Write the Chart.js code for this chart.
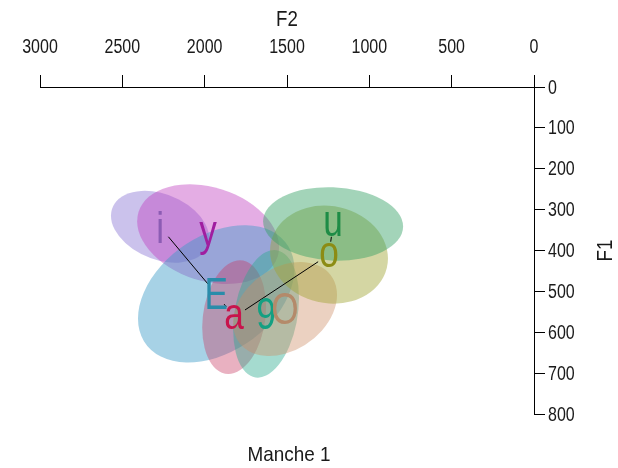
<!DOCTYPE html>
<html>
<head>
<meta charset="utf-8">
<script src="https://cdn.jsdelivr.net/npm/chart.js@4/dist/chart.umd.min.js"></script>
<style>
  html, body { margin: 0; padding: 0; background: #ffffff; }
  canvas { display: block; }
</style>
</head>
<body>
<canvas id="chart" width="618" height="468"></canvas>
<script>
// Vowel formant means (Hz) for "Manche 1"
const vowels   = ['i', 'y', 'E', 'a', '9', 'O', 'o', 'u'];
const meanF2   = [2271, 1979, 1930, 1821, 1627, 1512, 1245, 1220];
const meanF1   = [342, 360, 506, 563, 555, 543, 410, 335];
// Dispersion of each vowel cloud: spread on F2, spread on F1, F2/F1 correlation
const spreadF2 = [298, 431, 475, 194, 200, 316, 358, 425];
const spreadF1 = [88, 122, 168, 139, 156, 115, 120, 90];
const corrF2F1 = [-0.31, -0.26, 0.36, 0.18, 0.25, 0.30, -0.08, -0.07];
// Vowel path joining the means
const vowelPath = ['i', 'E', 'a', 'o', 'u'];
// Axis ticks
const f2Ticks = [3000, 2500, 2000, 1500, 1000, 500, 0];
const f1Ticks = [0, 100, 200, 300, 400, 500, 600, 700, 800];

const fillColors = {
  i: 'rgba(130,110,210,0.42)',
  y: 'rgba(190,60,190,0.42)',
  E: 'rgba(60,155,200,0.45)',
  a: 'rgba(200,60,100,0.40)',
  '9': 'rgba(40,170,140,0.42)',
  O: 'rgba(205,140,100,0.40)',
  o: 'rgba(160,165,50,0.45)',
  u: 'rgba(50,160,100,0.45)'
};
const labelColors = {
  i: '#8c5cb4', y: '#a01ea0', E: '#2a8caa', a: '#c8144c',
  '9': '#14a082', O: '#b48a6a', o: '#8c8c14', u: '#1e8c46'
};

const FONT = "'Liberation Sans', Arial, sans-serif";
const TEXT = '#1a1a1a';

// text drawn with a horizontally condensed face
function condensed(ctx, str, x, y, opts) {
  const o = Object.assign({ size: 20, squeeze: 0.8, align: 'center', baseline: 'middle', color: TEXT, rotate: 0 }, opts);
  ctx.save();
  ctx.translate(x, y);
  if (o.rotate) ctx.rotate(o.rotate);
  ctx.scale(o.squeeze, 1);
  ctx.font = o.size + 'px ' + FONT;
  ctx.textAlign = o.align;
  ctx.textBaseline = o.baseline;
  ctx.fillStyle = o.color;
  ctx.fillText(str, 0, 0);
  ctx.restore();
}

const vowelLayer = {
  id: 'vowelLayer',
  beforeDatasetsDraw(chart) {
    const { ctx, scales: { x, y } } = chart;
    ctx.save();
    vowels.forEach((v, k) => {
      const cx = x.getPixelForValue(meanF2[k]);
      const cy = y.getPixelForValue(meanF1[k]);
      const r = corrF2F1[k];
      const ux = x.getPixelForValue(meanF2[k] + spreadF2[k]) - cx;
      const uy = y.getPixelForValue(meanF1[k] + r * spreadF1[k]) - cy;
      const vy = y.getPixelForValue(meanF1[k] + spreadF1[k] * Math.sqrt(1 - r * r)) - cy;
      ctx.save();
      ctx.beginPath();
      ctx.transform(ux, uy, 0, vy, cx, cy);
      ctx.arc(0, 0, 1, 0, Math.PI * 2);
      ctx.restore();
      ctx.fillStyle = fillColors[v];
      ctx.fill();
    });
    ctx.restore();
  },
  afterDatasetsDraw(chart) {
    const { ctx, scales: { x, y } } = chart;
    const area = chart.chartArea;
    const px = v => {
      const k = vowels.indexOf(v);
      return [x.getPixelForValue(meanF2[k]), y.getPixelForValue(meanF1[k])];
    };
    // joining line, leaving a gap around each vowel symbol
    const gap = 13;
    ctx.save();
    ctx.strokeStyle = '#000';
    ctx.lineWidth = 1;
    for (let n = 0; n < vowelPath.length - 1; n++) {
      const [x1, y1] = px(vowelPath[n]);
      const [x2, y2] = px(vowelPath[n + 1]);
      const d = Math.hypot(x2 - x1, y2 - y1);
      if (d <= 2 * gap) continue;
      const dx = (x2 - x1) / d, dy = (y2 - y1) / d;
      ctx.beginPath();
      ctx.moveTo(x1 + dx * gap, y1 + dy * gap);
      ctx.lineTo(x2 - dx * gap, y2 - dy * gap);
      ctx.stroke();
    }
    ctx.restore();

    // vowel symbols, centred on their means
    ctx.save();
    ctx.font = '44px ' + FONT;
    vowels.forEach(v => {
      const [cx, cy] = px(v);
      const asc = ctx.measureText(v).actualBoundingBoxAscent;
      condensed(ctx, v, cx, cy + asc / 2, { size: 44, baseline: 'alphabetic', color: labelColors[v] });
    });
    ctx.restore();

    // tick labels
    f2Ticks.forEach(v => condensed(ctx, String(v), x.getPixelForValue(v), 47, { size: 20 }));
    f1Ticks.forEach(v => condensed(ctx, String(v), area.right + 14, y.getPixelForValue(v) + 1, { size: 20, align: 'left' }));

    // axis titles and panel caption
    condensed(ctx, 'F2', (area.left + area.right) / 2, 20, { size: 22, squeeze: 0.85 });
    condensed(ctx, 'F1', 606, (area.top + area.bottom) / 2, { size: 22, squeeze: 0.85, rotate: -Math.PI / 2 });
    condensed(ctx, 'Manche 1', (area.left + area.right) / 2 + 2, 455, { size: 21, squeeze: 0.9 });
  }
};

new Chart(document.getElementById('chart'), {
  type: 'scatter',
  data: {
    datasets: [{
      data: vowels.map((v, k) => ({ x: meanF2[k], y: meanF1[k] })),
      pointRadius: 0,
      pointHoverRadius: 0
    }]
  },
  options: {
    responsive: false,
    animation: false,
    devicePixelRatio: 1,
    layout: { padding: { left: 40, bottom: 54, top: 0, right: 0 } },
    plugins: { legend: { display: false }, tooltip: { enabled: false } },
    scales: {
      x: {
        type: 'linear',
        position: 'top',
        reverse: true,
        min: 0,
        max: 3000,
        afterBuildTicks: s => { s.ticks = f2Ticks.map(v => ({ value: v })); },
        ticks: { display: false },
        grid: { drawOnChartArea: false, drawTicks: true, tickLength: 12, color: '#000', lineWidth: 1 },
        border: { display: true, color: '#000', width: 1 },
        afterFit: s => { s.height = 87; }
      },
      y: {
        type: 'linear',
        position: 'right',
        reverse: true,
        min: 0,
        max: 800,
        afterBuildTicks: s => { s.ticks = f1Ticks.map(v => ({ value: v })); },
        ticks: { display: false },
        grid: { drawOnChartArea: false, drawTicks: true, tickLength: 11, color: '#000', lineWidth: 1 },
        border: { display: true, color: '#000', width: 1 },
        afterFit: s => { s.width = 84; }
      }
    }
  },
  plugins: [vowelLayer]
});
</script>
</body>
</html>
